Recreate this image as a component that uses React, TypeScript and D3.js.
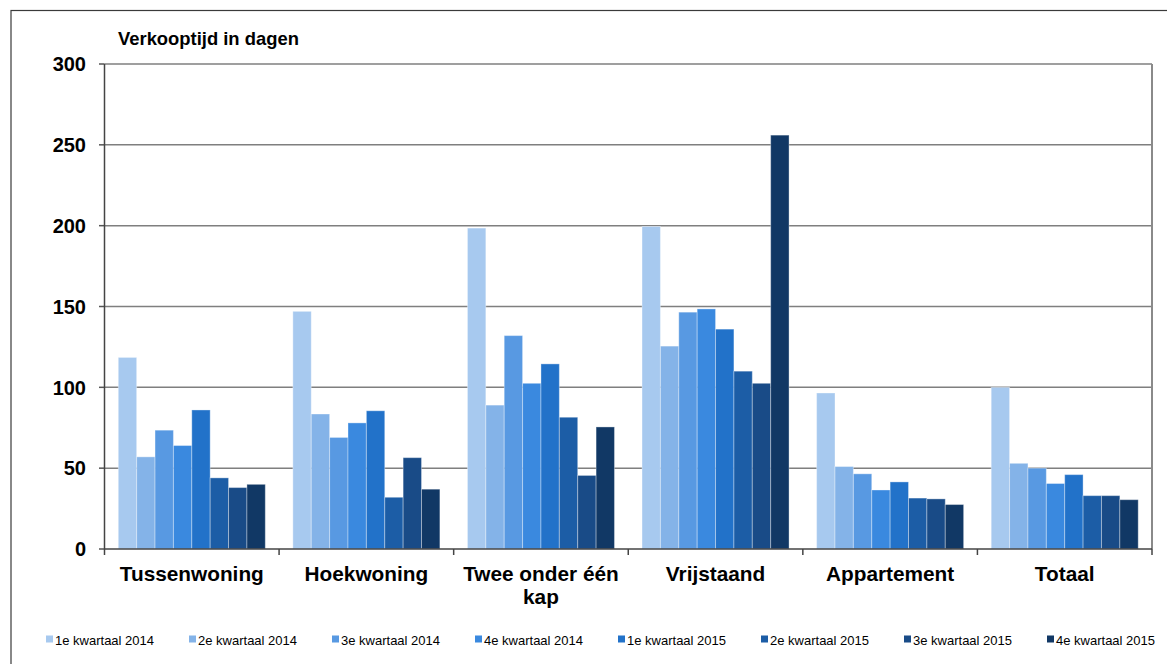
import React from "react";
import * as d3 from "d3";

const categories = ["Tussenwoning", "Hoekwoning", "Twee onder één kap", "Vrijstaand", "Appartement", "Totaal"];
const categoryLines = [["Tussenwoning"], ["Hoekwoning"], ["Twee onder één", "kap"], ["Vrijstaand"], ["Appartement"], ["Totaal"]];
const series = [
  "1e kwartaal 2014",
  "2e kwartaal 2014",
  "3e kwartaal 2014",
  "4e kwartaal 2014",
  "1e kwartaal 2015",
  "2e kwartaal 2015",
  "3e kwartaal 2015",
  "4e kwartaal 2015",
];
// values[series][category]
const q1_2014 = [118.5, 147, 198.5, 199.5, 96.5, 100];
const q2_2014 = [57, 83.5, 89, 125.5, 51, 53];
const q3_2014 = [73.5, 69, 132, 146.5, 46.5, 50];
const q4_2014 = [64, 78, 102.5, 148.5, 36.5, 40.5];
const q1_2015 = [86, 85.5, 114.5, 136, 41.5, 46];
const q2_2015 = [44, 32, 81.5, 110, 31.5, 33];
const q3_2015 = [38, 56.5, 45.5, 102.5, 31, 33];
const q4_2015 = [40, 37, 75.5, 256, 27.5, 30.5];
const values = [q1_2014, q2_2014, q3_2014, q4_2014, q1_2015, q2_2015, q3_2015, q4_2015];
const yTicks = [0, 50, 100, 150, 200, 250, 300];
const colors = ["#A7C9EF", "#84B3E8", "#5899E2", "#3A89DF", "#2272C9", "#1C5DA6", "#194B87", "#113865"];

const FONT = "'Liberation Sans', Arial, sans-serif";

export default function App() {
  const W = 1167;
  const H = 664;
  const left = 104.5;
  const right = 1152;
  const top = 64;
  const bottom = 549;

  const x = d3.scaleBand<string>().domain(categories).range([left, right]).paddingInner(0).paddingOuter(0);
  const xs = d3.scaleBand<string>().domain(series).range([0, x.bandwidth()]).paddingInner(0).paddingOuter(0.75);
  const y = d3.scaleLinear().domain([0, 300]).range([bottom, top]);

  const legendX0 = 46;
  const legendStep = 143;
  const legendY = 640;

  return (
    <div style={{ position: "absolute", left: 0, top: 0 }}>
      <svg width={W} height={H} style={{ display: "block", background: "#fff" }} fontFamily={FONT}>
        <rect x={0} y={0} width={W} height={H} fill="#fff" />
        {/* outer frame */}
        <rect x={11} y={10.5} width={W + 20} height={H + 20} fill="none" stroke="#3a3a3a" strokeWidth={1.2} />
        {/* title */}
        <text x={118} y={45} fontSize={18.4} fontWeight="bold" fill="#000">
          Verkooptijd in dagen
        </text>
        {/* gridlines */}
        {yTicks.map((t) => (
          <g key={t}>
            {t > 0 && (
              <line x1={left} x2={right} y1={y(t)} y2={y(t)} stroke="#7f7f7f" strokeWidth={1.5} />
            )}
            <line x1={99} x2={left} y1={y(t)} y2={y(t)} stroke="#555" strokeWidth={1.5} />
            <text x={86} y={y(t)} dy="0.36em" textAnchor="end" fontSize={20} fontWeight="bold" fill="#000">
              {t}
            </text>
          </g>
        ))}
        {/* plot border right */}
        <line x1={right} x2={right} y1={top} y2={bottom} stroke="#8a8a8a" strokeWidth={2} />
        {/* bars */}
        {series.map((s, si) => (
          <g key={s}>
            {categories.map((c, ci) => {
              const v = values[si][ci];
              const bx = (x(c) as number) + (xs(s) as number);
              return (
                <rect
                  key={c}
                  x={bx}
                  y={y(v)}
                  width={xs.bandwidth()}
                  height={y(0) - y(v)}
                  fill={colors[si]}
                  stroke="rgba(255,255,255,0.35)"
                  strokeWidth={1}
                />
              );
            })}
          </g>
        ))}
        {/* axes */}
        <line x1={left} x2={left} y1={top} y2={bottom} stroke="#444" strokeWidth={1.5} />
        <line x1={left} x2={right} y1={bottom} y2={bottom} stroke="#444" strokeWidth={1.5} />
        {categories.map((c) => (
          <line key={c} x1={x(c) as number} x2={x(c) as number} y1={bottom} y2={bottom + 6} stroke="#444" strokeWidth={1.5} />
        ))}
        <line x1={right} x2={right} y1={bottom} y2={bottom + 6} stroke="#444" strokeWidth={1.5} />
        {/* x labels */}
        {categories.map((c, ci) => (
          <text key={c} x={(x(c) as number) + x.bandwidth() / 2} y={580.5} textAnchor="middle" fontSize={20.8} fontWeight="bold" fill="#000">
            {categoryLines[ci].map((ln, li) => (
              <tspan key={li} x={(x(c) as number) + x.bandwidth() / 2} dy={li === 0 ? 0 : 23.5}>
                {ln}
              </tspan>
            ))}
          </text>
        ))}
        {/* legend */}
        {series.map((s, si) => {
          const lx = legendX0 + si * legendStep;
          return (
            <g key={s}>
              <rect x={lx} y={legendY - 4.5} width={7} height={7} fill={colors[si]} />
              <text x={lx + 9} y={legendY} dy="0.36em" fontSize={13} fill="#000">
                {s}
              </text>
            </g>
          );
        })}
      </svg>
    </div>
  );
}
